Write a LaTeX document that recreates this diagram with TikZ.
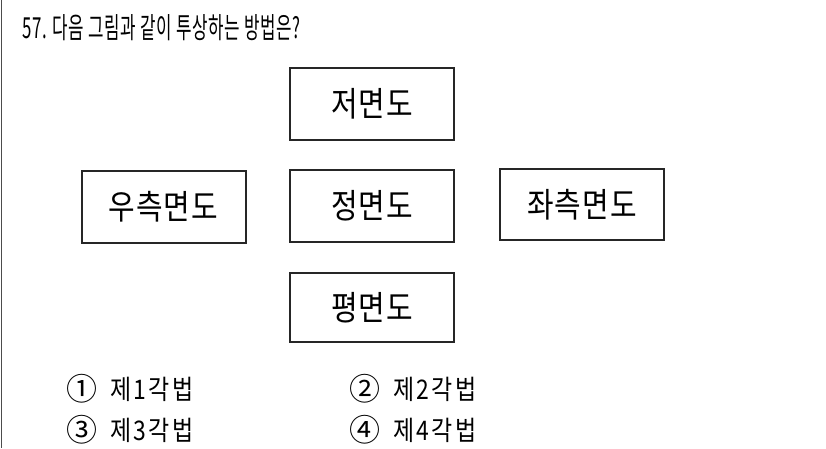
\documentclass[tikz,border=0pt]{standalone}
\usepackage{fontspec}
\newfontfamily\kr{Noto Sans CJK KR}
\newfontfamily\krn[FakeStretch=0.58,LetterSpace=2]{Noto Sans CJK KR}
\newfontfamily\krb[FakeStretch=0.85,LetterSpace=3]{Noto Sans CJK KR}
\newfontfamily\kro[FakeStretch=0.85,LetterSpace=9]{Noto Sans CJK KR}
\begin{document}
\begin{tikzpicture}[x=1pt,y=-1pt,
  viewbox/.style={draw=black!85,line width=2pt,minimum width=164pt,minimum height=72pt,inner sep=0pt,font=\krb\fontsize{34}{36}\selectfont},
  opt/.style={anchor=base west,inner sep=0pt,font=\kro\fontsize{27}{30}\selectfont},
  num/.style={anchor=base west,inner sep=0pt,font=\kr\fontsize{31}{34}\selectfont}]
\useasboundingbox (0,0) rectangle (826,448);
\fill[white] (0,0) rectangle (826,448);
\coordinate (bt) at (1.5,0);
\coordinate (bb) at (1.5,448);
\draw[line width=1.5pt,black!70] (bt) -- (bb);
\node[anchor=base west,inner sep=0pt,font=\krn\fontsize{29}{32}\selectfont] (title) at (22,38) {57. 다음 그림과 같이 투상하는 방법은?};
\node[viewbox] (top) at (372,104) {저면도};
\node[viewbox] (front) at (372,206) {정면도};
\node[viewbox,minimum height=69pt] (bottom) at (372,307.5) {평면도};
\node[viewbox] (right) at (163.5,207) {우측면도};
\node[viewbox,minimum height=71pt] (left) at (582,204.5) {좌측면도};
\node[num] (o1) at (66,400) {①};
\node[opt] (t1) at (110,399) {제1각법};
\node[num] (o2) at (349,400) {②};
\node[opt] (t2) at (393,399) {제2각법};
\node[num] (o3) at (66,441) {③};
\node[opt] (t3) at (110,440) {제3각법};
\node[num] (o4) at (349,441) {④};
\node[opt] (t4) at (393,440) {제4각법};
\end{tikzpicture}
\end{document}
